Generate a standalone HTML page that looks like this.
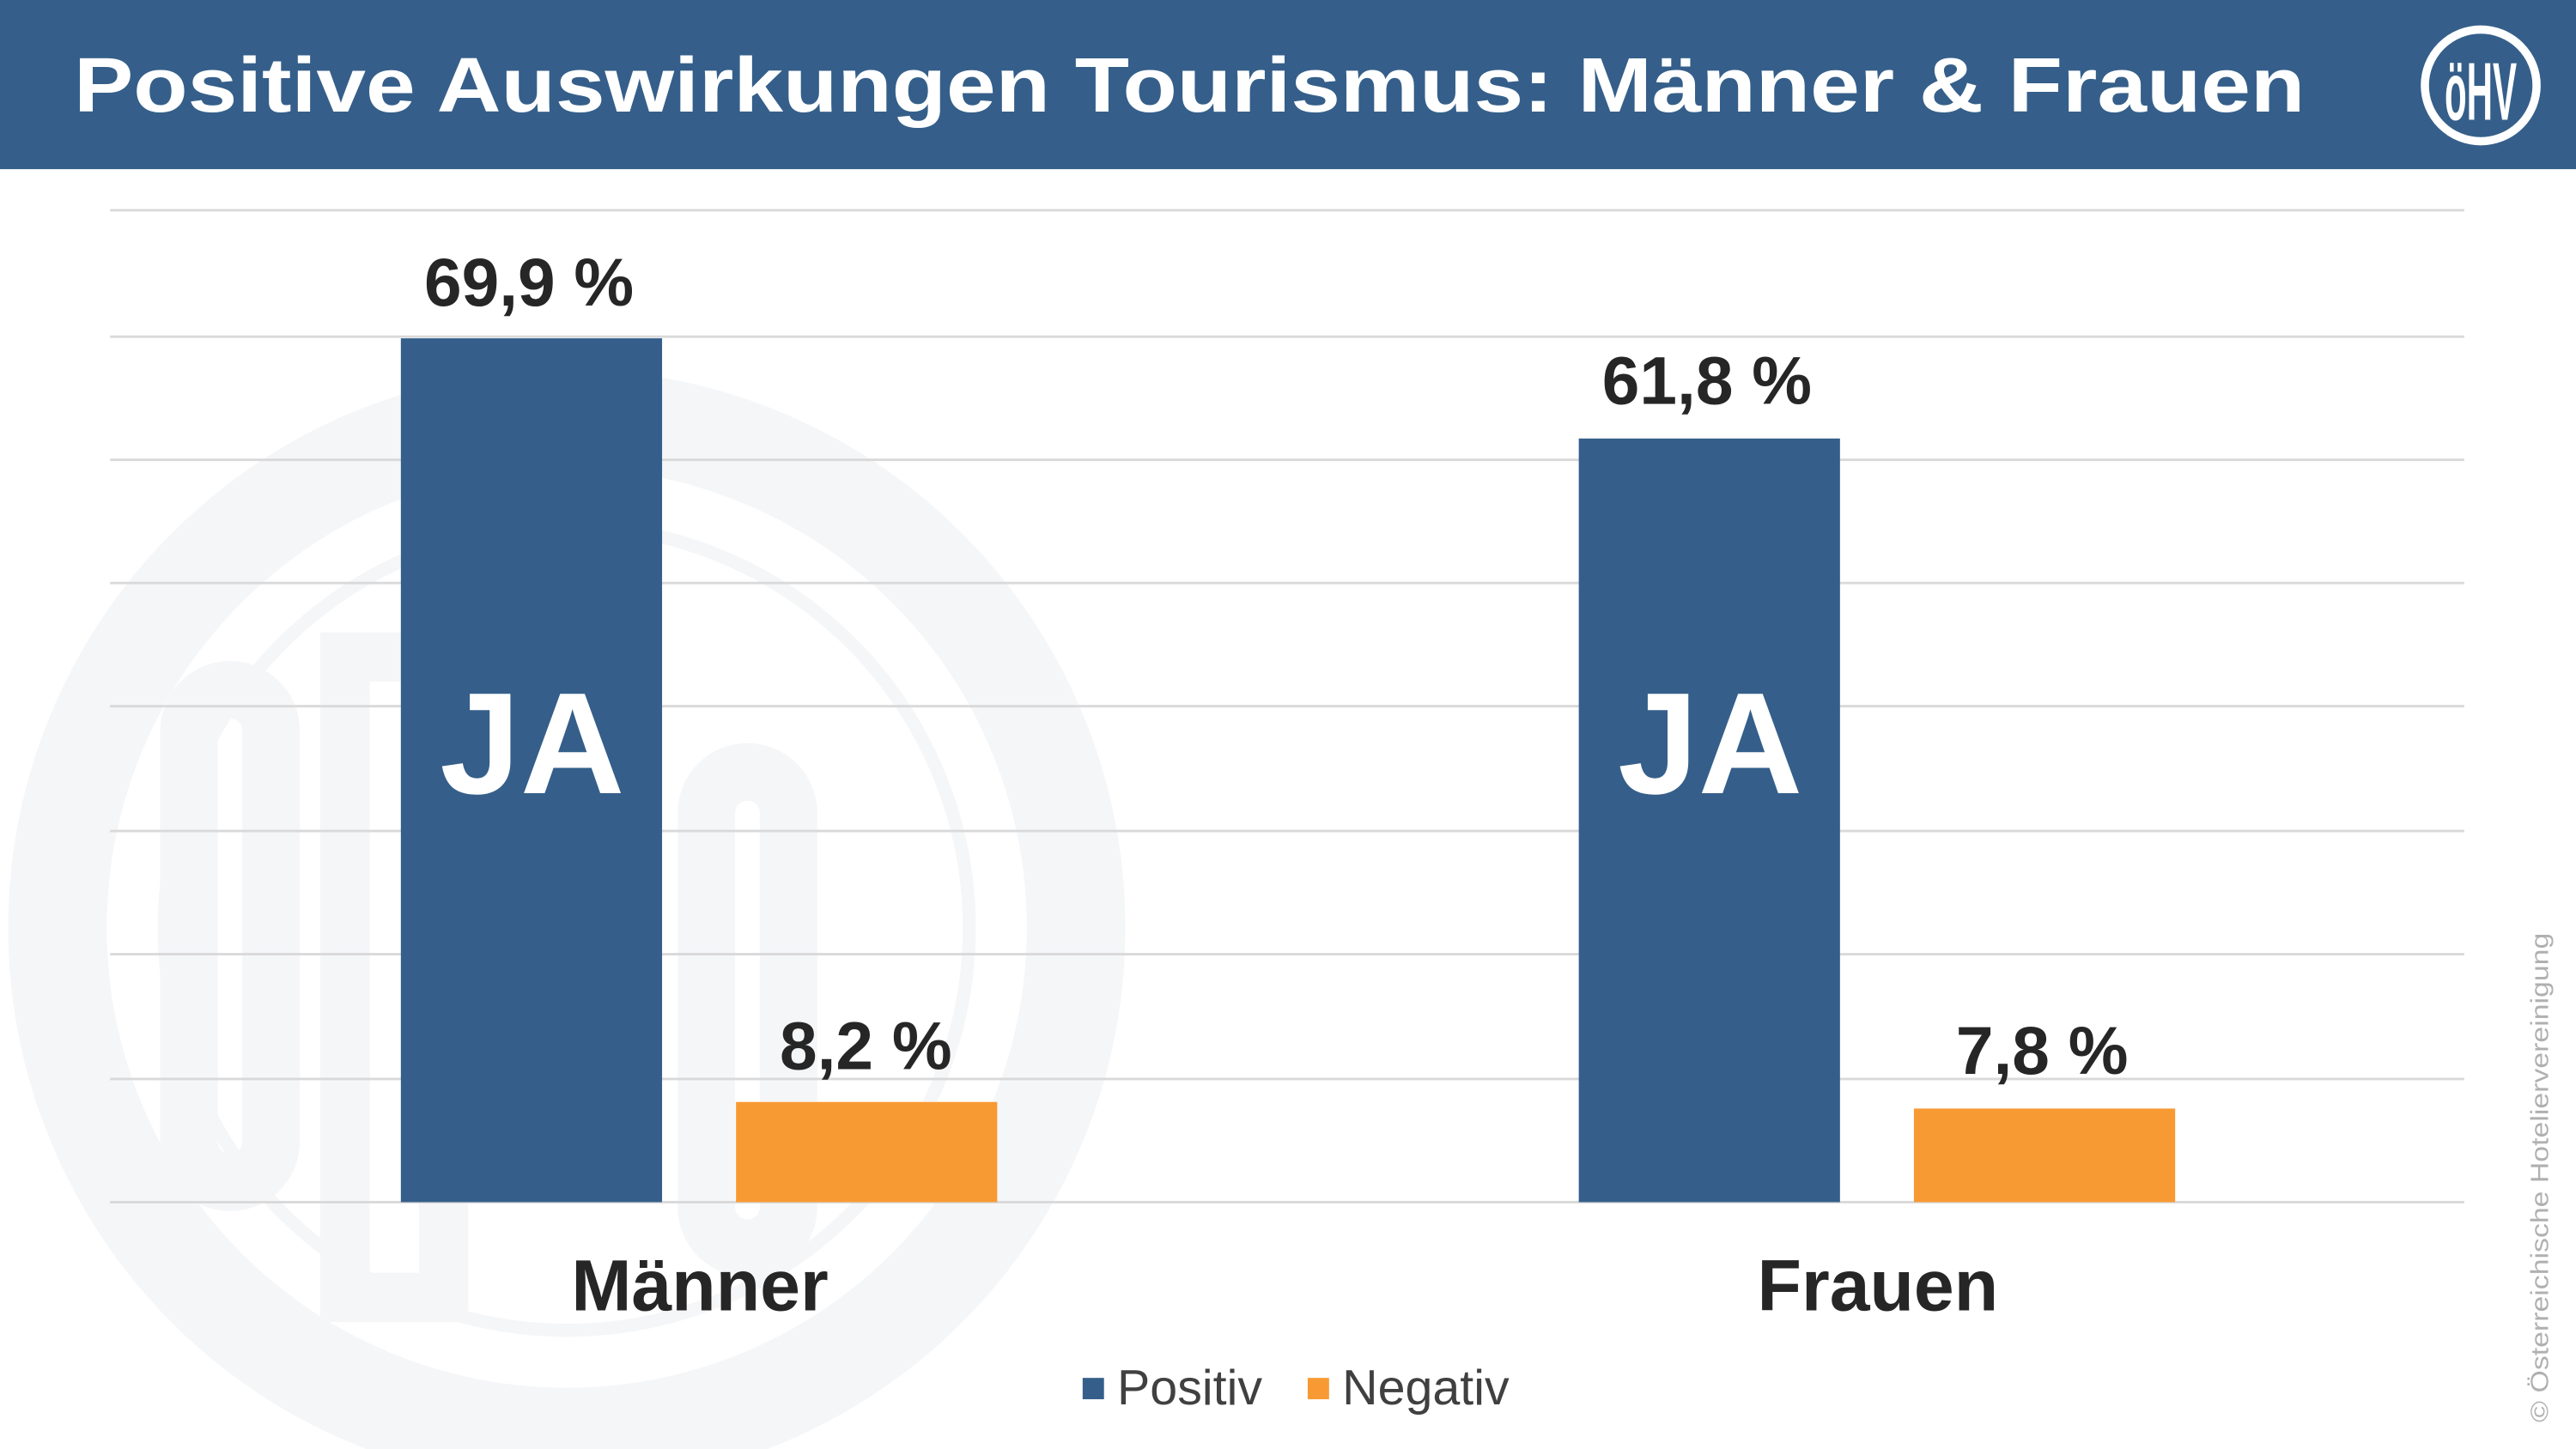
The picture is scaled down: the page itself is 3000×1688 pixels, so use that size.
<!DOCTYPE html>
<html><head><meta charset="utf-8"><style>html,body{margin:0;padding:0;background:#fff}svg{display:block}</style></head>
<body>
<svg width="3000" height="1688" viewBox="0 0 1568 882.3" preserveAspectRatio="none" xmlns="http://www.w3.org/2000/svg" font-family="Liberation Sans, Arial, sans-serif">
<rect width="1568" height="883" fill="#fff"/>
<!-- watermark -->
<g fill="none" stroke="#f5f6f8">
<circle cx="345" cy="565" r="310" stroke-width="60"/>
<circle cx="345" cy="565" r="245" stroke-width="8"/>
<rect x="115" y="420" width="50" height="300" rx="25" stroke-width="35"/>
<rect x="210" y="400" width="60" height="390" stroke-width="30"/>
<rect x="430" y="470" width="50" height="290" rx="25" stroke-width="35"/>
</g>
<!-- gridlines -->
<g stroke="#d9d9d9" stroke-width="1.5">
<line x1="67" x2="1500" y1="128" y2="128"/><line x1="67" x2="1500" y1="205" y2="205"/>
<line x1="67" x2="1500" y1="280" y2="280"/><line x1="67" x2="1500" y1="355" y2="355"/>
<line x1="67" x2="1500" y1="430" y2="430"/><line x1="67" x2="1500" y1="506" y2="506"/>
<line x1="67" x2="1500" y1="581" y2="581"/><line x1="67" x2="1500" y1="657" y2="657"/>
<line x1="67" x2="1500" y1="732" y2="732"/>
</g>
<!-- bars -->
<rect x="244" y="206" width="159" height="526" fill="#355f8a"/>
<rect x="448" y="671" width="159" height="61" fill="#f89a33"/>
<rect x="961" y="267" width="159" height="465" fill="#355f8a"/>
<rect x="1165" y="675" width="159" height="57" fill="#f89a33"/>
<g font-weight="bold" fill="#262626" font-size="41" text-anchor="middle">
<text x="322" y="186">69,9 %</text>
<text x="527" y="651">8,2 %</text>
<text x="1039" y="246">61,8 %</text>
<text x="1243" y="654">7,8 %</text>
</g>
<g font-weight="bold" fill="#262626" font-size="44" text-anchor="middle">
<text x="426" y="798">Männer</text>
<text x="1143" y="798">Frauen</text>
</g>
<g font-weight="bold" fill="#fff" font-size="88" text-anchor="middle">
<text x="324" y="483">JA</text>
<text x="1041" y="483">JA</text>
</g>
<!-- legend -->
<rect x="659" y="839" width="13" height="13" fill="#355f8a"/>
<text x="680" y="855" font-size="30" fill="#404040">Positiv</text>
<rect x="796" y="839" width="13" height="13" fill="#f89a33"/>
<text x="817" y="855" font-size="30" fill="#404040">Negativ</text>
<text transform="translate(1551,866) rotate(-90)" font-size="15" fill="#b0b0b0" textLength="298" lengthAdjust="spacingAndGlyphs">© Österreichische Hoteliervereinigung</text>
<!-- header -->
<rect width="1568" height="103" fill="#355f8a"/>
<text x="45" y="68" font-size="47" font-weight="bold" fill="#fff" textLength="1358" lengthAdjust="spacingAndGlyphs">Positive Auswirkungen  Tourismus: Männer &amp; Frauen</text>
<circle cx="1510" cy="52" r="34" fill="none" stroke="#fff" stroke-width="5"/>
<text x="1510" y="73" font-size="50" font-weight="bold" fill="#fff" text-anchor="middle" textLength="44" lengthAdjust="spacingAndGlyphs">öHV</text>
</svg>
</body></html>
